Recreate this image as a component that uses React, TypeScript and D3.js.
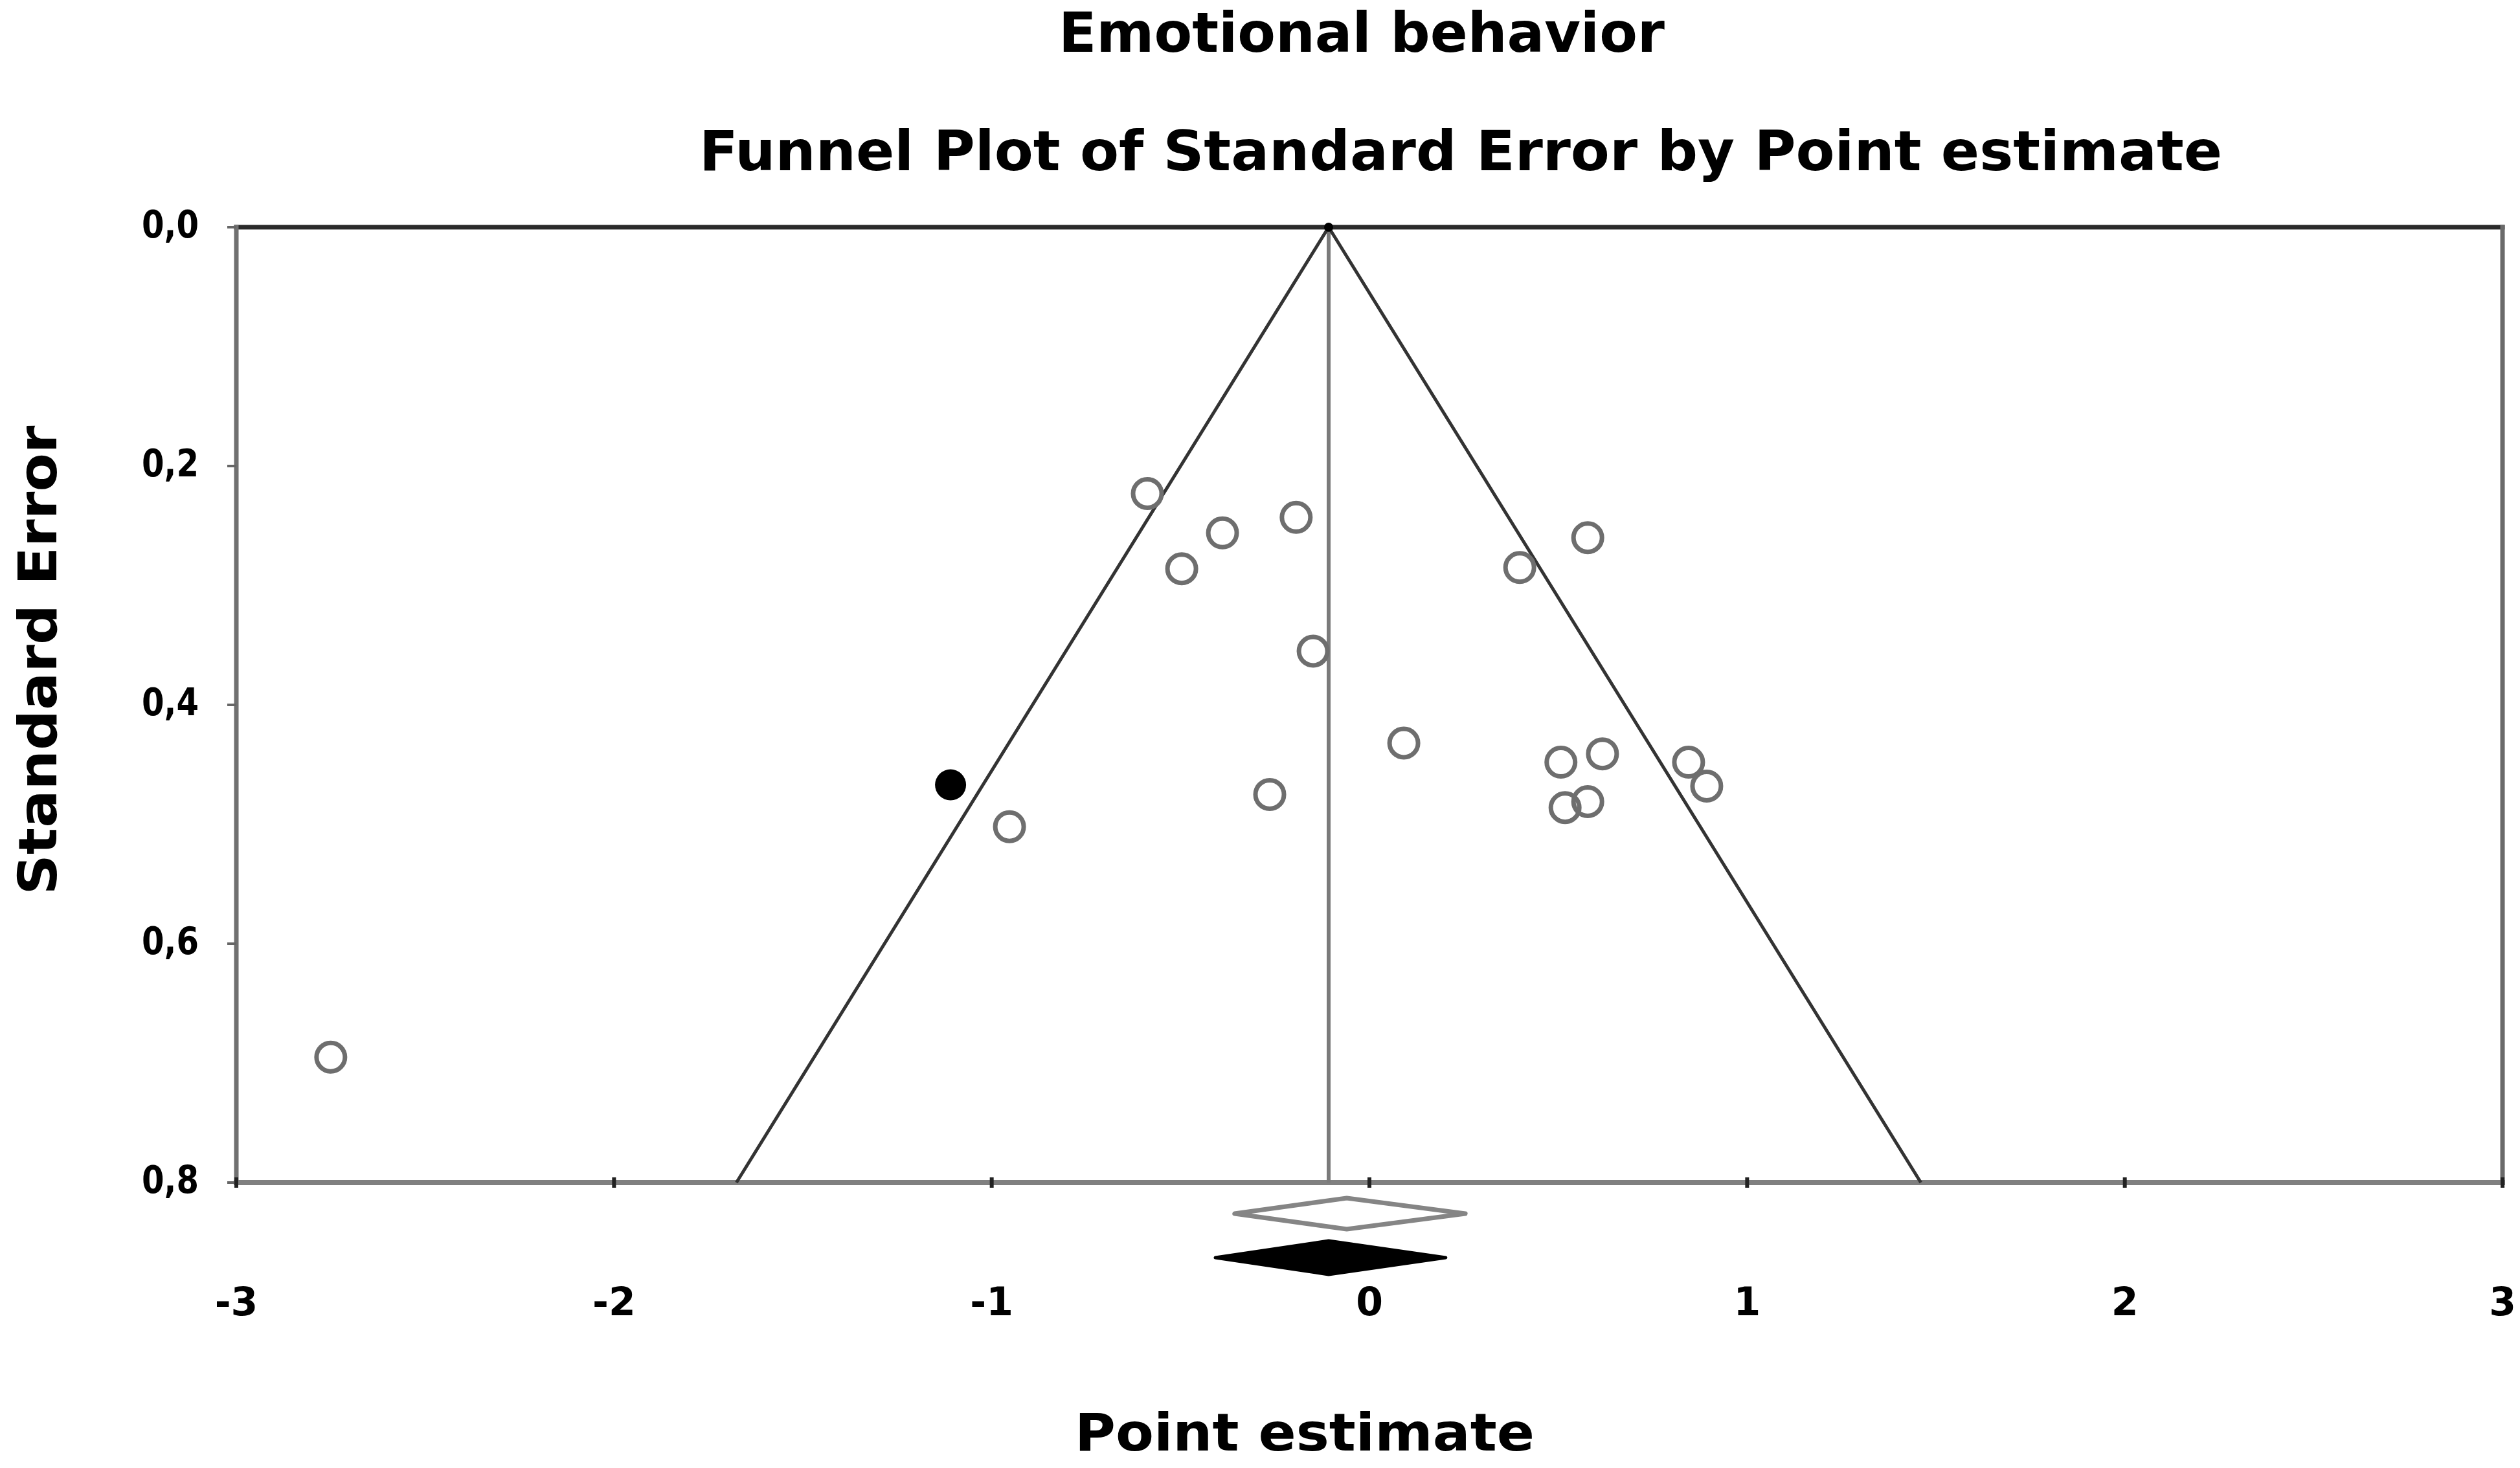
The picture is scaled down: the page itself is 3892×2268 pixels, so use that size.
import React, { useEffect, useRef } from "react";
import * as d3 from "d3";

// observed studies (point estimate, standard error)
const studyEffects = [
  -0.588, -0.389, -0.194, -0.497, -0.149, -0.264, -0.953, -2.75, 0.091, 0.398,
  0.578, 0.507, 0.617, 0.518, 0.578, 0.845, 0.893,
];
const studyErrors = [
  0.223, 0.256, 0.243, 0.286, 0.355, 0.475, 0.502, 0.695, 0.432, 0.285, 0.26,
  0.448, 0.441, 0.486, 0.481, 0.448, 0.468,
];
// trim-and-fill imputed study
const imputedEffects = [-1.109];
const imputedErrors = [0.467];
// [estimate, lower, upper]
const observedSummary = [-0.06, -0.357, 0.254];
const adjustedSummary = [-0.108, -0.408, 0.202];
const xTicks = [-3, -2, -1, 0, 1, 2, 3];
const yTicks = [0, 0.2, 0.4, 0.6, 0.8];

const FONT = "'DejaVu Sans', Verdana, sans-serif";

export default function App() {
  const svgRef = useRef(null);

  useEffect(() => {
    document.body.style.margin = "0";
    const width = 3892;
    const height = 2268;
    const left = 365;
    const right = 3865;
    const top = 351;
    const bottom = 1827;

    const svg = d3.select(svgRef.current);
    svg.selectAll("*").remove();
    svg.attr("width", width).attr("height", height);

    svg.append("rect").attr("width", width).attr("height", height).attr("fill", "#fff");

    const x = d3.scaleLinear().domain([-3, 3]).range([left, right]);
    const y = d3.scaleLinear().domain([0, 0.8]).range([top, bottom]);
    const centre = adjustedSummary[0];

    // frame
    const frame = [
      { x1: left, y1: top, x2: right, y2: top, c: "#2a2a2a", w: 7 },
      { x1: right, y1: top, x2: right, y2: bottom, c: "#6a6a6a", w: 7 },
      { x1: left, y1: top, x2: left, y2: bottom, c: "#707070", w: 7 },
      { x1: left, y1: bottom, x2: right, y2: bottom, c: "#808080", w: 8 },
    ];
    svg
      .selectAll("line.frame")
      .data(frame)
      .join("line")
      .attr("class", "frame")
      .attr("x1", (d) => d.x1)
      .attr("y1", (d) => d.y1)
      .attr("x2", (d) => d.x2)
      .attr("y2", (d) => d.y2)
      .attr("stroke", (d) => d.c)
      .attr("stroke-width", (d) => d.w)
      .attr("stroke-linecap", "square");

    // centre line
    svg
      .append("line")
      .attr("x1", x(centre))
      .attr("x2", x(centre))
      .attr("y1", y(0))
      .attr("y2", y(0.8))
      .attr("stroke", "#7a7a7a")
      .attr("stroke-width", 6);

    // funnel
    const funnel = [
      [centre - 1.96 * 0.8, 0.8],
      [centre, 0],
      [centre + 1.96 * 0.8, 0.8],
    ];
    svg
      .append("path")
      .attr("d", d3.line().x((d) => x(d[0])).y((d) => y(d[1]))(funnel))
      .attr("fill", "none")
      .attr("stroke", "#333")
      .attr("stroke-width", 5);

    // y ticks
    svg
      .selectAll("line.ytick")
      .data(yTicks)
      .join("line")
      .attr("class", "ytick")
      .attr("x1", left - 14)
      .attr("x2", left)
      .attr("y1", (d) => y(d))
      .attr("y2", (d) => y(d))
      .attr("stroke", "#666")
      .attr("stroke-width", 4);

    svg
      .selectAll("text.ylab")
      .data(yTicks)
      .join("text")
      .attr("class", "ylab")
      .attr("x", 307)
      .attr("y", (d) => y(d) - 5)
      .attr("dy", "0.36em")
      .attr("text-anchor", "end")
      .attr("font-family", FONT)
      .attr("font-weight", "bold")
      .attr("font-size", 58)
      .attr("textLength", 88)
      .attr("lengthAdjust", "spacingAndGlyphs")
      .text((d) => d3.format(".1f")(d).replace(".", ","));

    // x ticks
    svg
      .selectAll("line.xtick")
      .data(xTicks)
      .join("line")
      .attr("class", "xtick")
      .attr("x1", (d) => x(d))
      .attr("x2", (d) => x(d))
      .attr("y1", bottom - 8)
      .attr("y2", bottom + 8)
      .attr("stroke", "#222")
      .attr("stroke-width", 6);

    svg
      .selectAll("text.xlab")
      .data(xTicks)
      .join("text")
      .attr("class", "xlab")
      .attr("x", (d) => x(d))
      .attr("y", bottom + 205)
      .attr("text-anchor", "middle")
      .attr("font-family", FONT)
      .attr("font-weight", "bold")
      .attr("font-size", 60)
      .text((d) => String(d));

    // studies
    const studies = studyEffects.map((e, i) => [e, studyErrors[i]]);
    svg
      .selectAll("circle.study")
      .data(studies)
      .join("circle")
      .attr("class", "study")
      .attr("cx", (d) => x(d[0]))
      .attr("cy", (d) => y(d[1]))
      .attr("r", 22)
      .attr("fill", "none")
      .attr("stroke", "#6e6e6e")
      .attr("stroke-width", 7);

    const imputed = imputedEffects.map((e, i) => [e, imputedErrors[i]]);
    svg
      .selectAll("circle.imputed")
      .data(imputed)
      .join("circle")
      .attr("class", "imputed")
      .attr("cx", (d) => x(d[0]))
      .attr("cy", (d) => y(d[1]))
      .attr("r", 24)
      .attr("fill", "#000");

    // apex dot
    svg
      .append("circle")
      .attr("cx", x(centre))
      .attr("cy", y(0))
      .attr("r", 7)
      .attr("fill", "#000");

    // summary diamonds
    const diamond = (s, cy, h) =>
      `M${x(s[1])},${cy}L${x(s[0])},${cy - h}L${x(s[2])},${cy}L${x(s[0])},${cy + h}Z`;

    svg
      .append("path")
      .attr("d", diamond(observedSummary, bottom + 48, 24))
      .attr("fill", "#fff")
      .attr("stroke", "#858585")
      .attr("stroke-width", 7)
      .attr("stroke-linejoin", "round");

    svg
      .append("path")
      .attr("d", diamond(adjustedSummary, bottom + 116, 26))
      .attr("fill", "#000")
      .attr("stroke", "#000")
      .attr("stroke-width", 5)
      .attr("stroke-linejoin", "round");

    // titles
    const addText = (txt, tx, ty, size, len, rotate) => {
      const t = svg
        .append("text")
        .attr("text-anchor", "middle")
        .attr("font-family", FONT)
        .attr("font-weight", "bold")
        .attr("font-size", size)
        .attr("textLength", len)
        .attr("lengthAdjust", "spacingAndGlyphs")
        .text(txt);
      if (rotate) {
        t.attr("transform", `translate(${tx},${ty}) rotate(-90)`);
      } else {
        t.attr("x", tx).attr("y", ty);
      }
    };
    addText("Emotional behavior", 2103, 80, 86, 936, false);
    addText("Funnel Plot of Standard Error by Point estimate", 2256, 263, 86, 2352, false);
    addText("Point estimate", 2015, 2241, 80, 710, false);
    addText("Standard Error", 87, 1020, 82, 725, true);
  }, []);

  return <svg ref={svgRef} style={{ display: "block" }} />;
}
